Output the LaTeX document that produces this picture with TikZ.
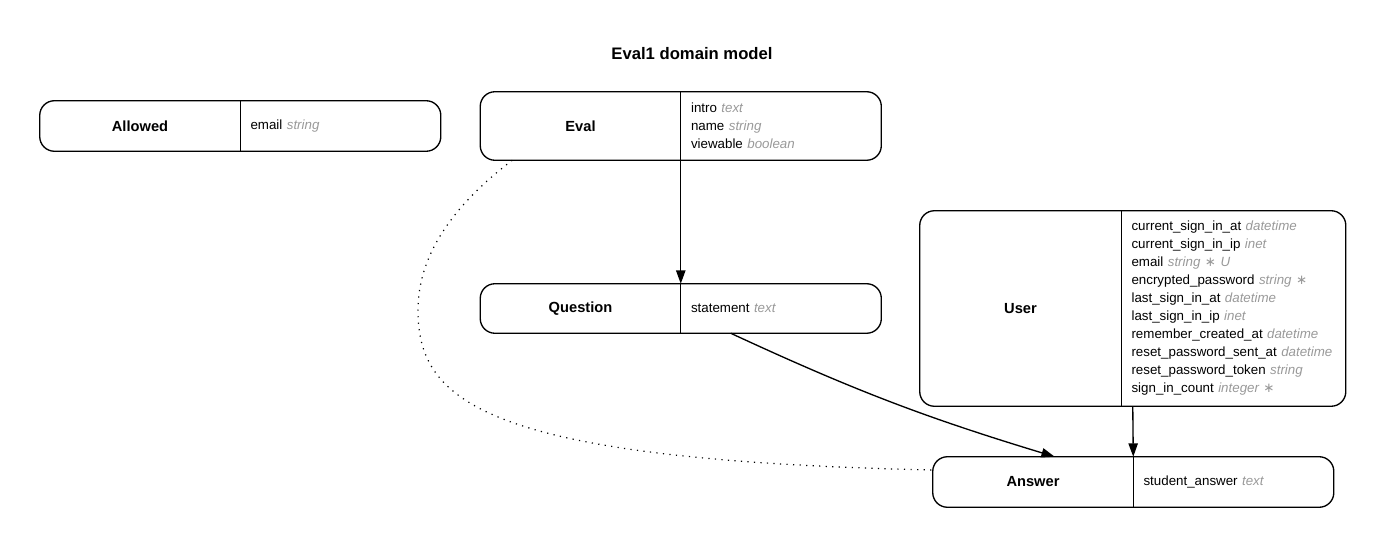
\documentclass[tikz,border=0pt]{standalone}
\usepackage{fontspec}
\setmainfont{Liberation Sans}
\newfontfamily\symfont{DejaVu Sans}
\usetikzlibrary{arrows.meta,positioning,fit,calc}
\definecolor{typegray}{gray}{0.6}
\newcommand{\ftype}[1]{\textcolor{typegray}{\textit{#1}}}
\newcommand{\freq}{{\symfont\upshape ∗}}
\tikzset{
  entname/.style={rectangle, minimum width=150pt, inner sep=0pt,
                  align=center, font=\fontsize{11}{13}\selectfont\bfseries},
  entattr/.style={rectangle, inner xsep=7.5pt, inner ysep=0pt,
                  text width=135pt, align=left,
                  font=\fontsize{10}{13.5}\selectfont},
  entframe/.style={rectangle, rounded corners=11pt, draw=black,
                   line width=1pt, inner sep=0pt},
  divider/.style={line width=1pt},
  relarrow/.style={-{Triangle[length=10pt,width=7pt]}, line width=1pt},
  optlink/.style={line width=0.9pt, dash pattern=on 0.9pt off 4pt},
}
\begin{document}
\begin{tikzpicture}[
    x=0.75pt, y=-0.75pt,
    title/.style={font=\fontsize{12.5}{15}\selectfont\bfseries},
  ]
  \useasboundingbox (0,0) rectangle (1384,548);
  \node[title] (title) at (692,54) {Eval1 domain model};

  % entities
  \node[entname, minimum height=37.5pt] (Allowed) at (140,126) {Allowed};
  \node[entattr, minimum height=37.5pt, right=0pt of Allowed] (AllowedAttr)
    {email \ftype{string}};
  \node[entframe, fit=(Allowed)(AllowedAttr)] (AllowedBox) {};

  \node[entname, minimum height=51pt] (Eval) at (580.5,126) {Eval};
  \node[entattr, minimum height=51pt, right=0pt of Eval] (EvalAttr)
    {intro \ftype{text}\\ name \ftype{string}\\ viewable \ftype{boolean}};
  \node[entframe, fit=(Eval)(EvalAttr)] (EvalBox) {};

  \node[entname, minimum height=36.75pt] (Question) at (580.5,308.5) {Question};
  \node[entattr, minimum height=36.75pt, right=0pt of Question] (QuestionAttr)
    {statement \ftype{text}};
  \node[entframe, fit=(Question)(QuestionAttr)] (QuestionBox) {};

  \node[entname, minimum width=150.75pt, minimum height=146.25pt] (User)
    at (1020.5,308.5) {User};
  \node[entattr, text width=153pt, minimum height=146.25pt, right=0pt of User]
    (UserAttr)
    {current\_sign\_in\_at \ftype{datetime}\\
     current\_sign\_in\_ip \ftype{inet}\\
     email \ftype{string \freq{} U}\\
     encrypted\_password \ftype{string \freq}\\
     last\_sign\_in\_at \ftype{datetime}\\
     last\_sign\_in\_ip \ftype{inet}\\
     remember\_created\_at \ftype{datetime}\\
     reset\_password\_sent\_at \ftype{datetime}\\
     reset\_password\_token \ftype{string}\\
     sign\_in\_count \ftype{integer \freq}};
  \node[entframe, fit=(User)(UserAttr)] (UserBox) {};

  \node[entname, minimum height=37.5pt] (Answer) at (1033,482) {Answer};
  \node[entattr, minimum height=37.5pt, right=0pt of Answer] (AnswerAttr)
    {student\_answer \ftype{text}};
  \node[entframe, fit=(Answer)(AnswerAttr)] (AnswerBox) {};

  \foreach \ent in {Allowed, Eval, Question, User, Answer}
    \draw[divider] (\ent.north east) -- (\ent.south east);

  % relations
  \draw[relarrow] (Eval.south east) -- (Question.north east);
  \draw[relarrow] ($(QuestionAttr.south west)+(50,0)$)
    to[bend right=4] ($(Answer.north west)+(122,0)$);
  \draw[relarrow] (UserBox.south) -- (Answer.north east);
  \coordinate (bulge) at (418,310);
  \draw[optlink] ($(Eval.south west)+(32,0)$)
    .. controls (460,200) and (418,250) .. (bulge)
    .. controls (418,400) and (480,460) .. ($(Answer.west)+(0,-12)$);
\end{tikzpicture}
\end{document}
